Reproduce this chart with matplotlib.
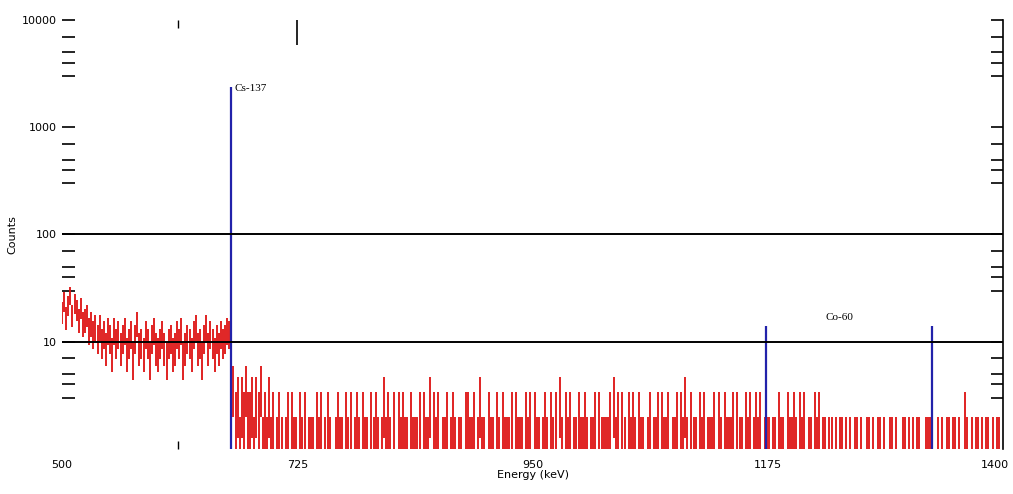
import numpy as np
import matplotlib
matplotlib.use("Agg")
import matplotlib.pyplot as plt
from matplotlib.ticker import LogLocator, NullFormatter
from matplotlib.transforms import ScaledTranslation

# spectrum: counts per 2 keV channel starting at 500 keV
low_counts = [19, 24, 17, 22, 27, 18, 23, 20, 16, 21, 15, 16, 18, 13, 15, 12, 14, 11, 14, 10,
              12, 9, 13, 11, 8, 13, 10, 12, 9, 11, 13, 8, 10, 12, 7, 11, 15, 9, 10, 8,
              12, 10, 7, 11, 13, 9, 8, 10, 12, 9, 7, 10, 11, 8, 9, 12, 10, 13, 7, 9,
              11, 10, 8, 12, 14, 9, 10, 7, 11, 14, 9, 12, 10, 8, 11, 9, 12, 10, 11, 13, 12]
high_counts = (
    "3423132422313241213"
    "1201210120" "2110212011" "1021201210" "0121102120" "1210211021"
    "2101312102" "0212110211" "1202113021" "2011201210" "1102211201"
    "3110211021" "0211120211" "1021202110" "1210212031" "0212011211"
    "2101120211" "1120312021" "0212102110" "1201120211" "2011202131"
    "0211021201" "1120210211" "1202110212" "0121201110" "1102110211"
    "2102120" "11021201"
    "1011010110" "1010110100" "1101011010" "0110100110" "1010110011"
    "1100101011" "0110100210" "1011010110" "10110"
)
counts = np.array(low_counts + [int(c) for c in high_counts], dtype=float)
energy = 500 + 2 * np.arange(len(counts))

peak_energy = [662, 1173, 1332]
peak_height = [2350, 14, 14]

x_ticks = [500, 725, 950, 1175, 1400]
y_ticks = [10, 100, 1000, 10000]
y_labels = ["10", "100", "1000", "10000"]

fig = plt.figure(figsize=(10.13, 4.94), dpi=100)
ax = fig.add_axes([62 / 1013, 1 - 449 / 494, 941 / 1013, 429 / 494])

# counts with statistical error bars
sigma = np.sqrt(counts)
keep = counts > 0
lo = np.maximum(counts - sigma, 0.5)
hi = counts + sigma
ax.vlines(energy[keep], lo[keep], hi[keep], color="#dd1111", linewidth=1.3)
ax.vlines(peak_energy, 1, peak_height, color="#2222aa", linewidth=1.6)

ax.axhline(100, color="black", linewidth=1.4)
ax.axhline(10, color="black", linewidth=1.4)

ax.set_yscale("log")
ax.set_xlim(500, 1400)
ax.set_ylim(1, 10000)

ax.text(665, 2300, "Cs-137", fontsize=8, family="Liberation Serif", va="center")
ax.text(1230, 17, "Co-60", fontsize=8, family="Liberation Serif", va="center")

ax.set_xticks(x_ticks)
ax.set_xticklabels([str(v) for v in x_ticks], fontsize=8)
ax.set_xticks([611], minor=True)
ax.tick_params(axis="x", which="major", length=0, pad=8)
ax.tick_params(axis="x", which="minor", direction="in", length=6,
               top=True, bottom=True, width=1, labelbottom=False)
last = ax.get_xticklabels()[-1]
last.set_transform(last.get_transform() + ScaledTranslation(-6 / 72, 0, fig.dpi_scale_trans))

ax.set_yticks(y_ticks)
ax.set_yticklabels(y_labels, fontsize=8)
ax.yaxis.set_minor_locator(LogLocator(base=10, subs=(3, 4, 5, 7)))
ax.yaxis.set_minor_formatter(NullFormatter())
ax.tick_params(axis="y", which="both", direction="in", length=9, width=1.2,
               left=True, right=True, pad=4)

top = ax.secondary_xaxis("top")
top.set_xticks([725])
top.set_xticklabels([""])
top.tick_params(direction="in", length=18, width=1.2)
top.spines["top"].set_visible(False)

for side in ["left", "top", "bottom"]:
    ax.spines[side].set_visible(False)
ax.spines["right"].set_linewidth(1.2)

ax.set_xlabel("Energy (keV)", fontsize=8, labelpad=0)
ax.set_ylabel("Counts", fontsize=8)
ax.yaxis.set_label_coords(-0.047, 0.5)

fig.savefig("out.png", dpi=100)
plt.close(fig)
